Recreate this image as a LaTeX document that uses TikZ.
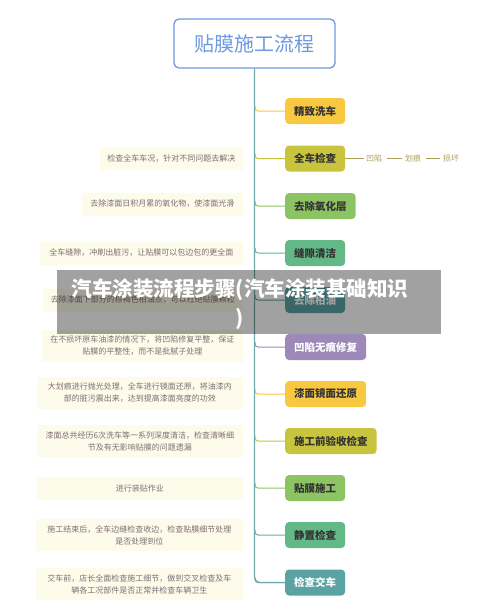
\documentclass[tikz,border=0pt]{standalone}
\usepackage{fontspec}
\setmainfont{Noto Sans CJK SC}
\definecolor{cYel}{HTML}{F8C840}
\definecolor{cOli}{HTML}{C9C43E}
\definecolor{cGrn}{HTML}{8CC463}
\definecolor{cGT}{HTML}{63B887}
\definecolor{cTeal}{HTML}{5BA3A3}
\definecolor{cPur}{HTML}{9C89B8}
\definecolor{trunkC}{HTML}{6EAAA8}
\definecolor{titleC}{HTML}{6E99E0}
\definecolor{cream}{HTML}{FDFBEA}
\definecolor{descC}{HTML}{7E6E74}
\definecolor{subC}{HTML}{ABA35A}
\tikzset{
  stepbox/.style={rounded corners=4pt, minimum height=26pt, inner xsep=9pt, anchor=west,
    font=\fontsize{10.5}{12}\selectfont\bfseries},
  branch/.style={line width=1pt, rounded corners=3pt},
  desc/.style={fill=cream, text=descC, anchor=east, align=center, inner xsep=6pt, inner ysep=6pt,
    minimum height=23pt, font=\fontsize{8}{12}\selectfont},
  subitem/.style={text=subC, anchor=west, inner xsep=2pt, font=\fontsize{8}{10}\selectfont},
  subline/.style={draw=subC, line width=1pt}
}
\begin{document}
\begin{tikzpicture}[x=1pt,y=-1pt]
\useasboundingbox (0,0) rectangle (500,605);
\fill[white] (0,0) rectangle (500,605);

\node[draw=titleC, line width=1.3pt, rounded corners=5pt, minimum width=161pt, minimum height=49pt,
  text=titleC, font=\fontsize{20}{24}\selectfont] (title) at (254.5,43.5) {贴膜施工流程};

\foreach \n/\y/\c/\t/\l in {
  n1/111/cYel/black!80/精致洗车,
  n2/158.5/cOli/black!80/全车检查,
  n3/206/cGrn/black!80/去除氧化层,
  n4/253/cGT/black!80/缝隙清洁,
  n5/300/cTeal/white/去除柏油,
  n6/347/cPur/white/凹陷无痕修复,
  n7/394/cYel/black!80/漆面镜面还原,
  n8/441/cOli/black!80/施工前验收检查,
  n9/488/cGrn/black!80/贴膜施工,
  n10/535/cGT/black!80/静置检查,
  n11/582.5/cTeal/white/检查交车}
{
  \node[stepbox, fill=\c, text=\t] (\n) at (285,\y) {\l};
  \draw[branch, draw=\c] (255,\y-5) |- (\n.west);
}
\draw[trunkC, line width=1.2pt, rounded corners=6pt] (title.south) |- (n11.west);

% sub items of 全车检查
\node[subitem] (s1) at (364,158.5) {凹陷};
\node[subitem] (s2) at (403,158.5) {划痕};
\node[subitem] (s3) at (441,158.5) {损坏};
\draw[subline] (n2.east) -- (s1.west);
\draw[subline] (s1.east) ++(3,0) coordinate (a1) (s2.west) ++(-1,0) coordinate (b1);
\draw[subline] (a1) -- (b1);
\draw[subline] (s2.east) ++(3,0) coordinate (a2) (s3.west) ++(-1,0) coordinate (b2);
\draw[subline] (a2) -- (b2);

% descriptions
\node[desc, minimum width=143pt] (d2) at (243,158.5) {检查全车车况，针对不同问题去解决};
\node[desc, minimum width=161pt] (d3) at (243,204) {去除漆面日积月累的氧化物，使漆面光滑};
\node[desc, minimum width=203pt] (d4) at (243,253) {全车缝隙，冲刷出脏污，让贴膜可以包边包的更全面};
\node[desc, minimum width=200pt] (d5) at (243,300) {去除漆面下部分的棕褐色柏油点，可以杜绝贴膜颗粒};
\node[desc, minimum width=201pt] (d6) at (243,346) {在不损坏原车油漆的情况下，将凹陷修复平整，保证\\贴膜的平整性，而不是批腻子处理};
\node[desc, minimum width=206pt] (d7) at (243,393) {大划痕进行抛光处理，全车进行镜面还原，将油漆内\\部的脏污震出来，达到提高漆面亮度的功效};
\node[desc, minimum width=206pt] (d8) at (243,441) {漆面总共经历6次洗车等一系列深度清洁，检查清晰细\\节及有无影响贴膜的问题遗漏};
\node[desc, minimum width=206pt] (d9) at (243,488) {进行装贴作业};
\node[desc, minimum width=207pt] (d10) at (243,535) {施工结束后，全车边缝检查收边，检查贴膜细节处理\\是否处理到位};
\node[desc, minimum width=207pt] (d11) at (243,584) {交车前，店长全面检查施工细节，做到交叉检查及车\\辆各工况部件是否正常并检查车辆卫生};

% watermark banner
\fill[black, fill opacity=0.37] (57,270) rectangle (441,334);
\node[text=white, align=center, font=\fontsize{20.5}{29}\selectfont\bfseries] (wm) at (240,304.5)
  {汽车涂装流程步骤(汽车涂装基础知识\\)};
\end{tikzpicture}
\end{document}
